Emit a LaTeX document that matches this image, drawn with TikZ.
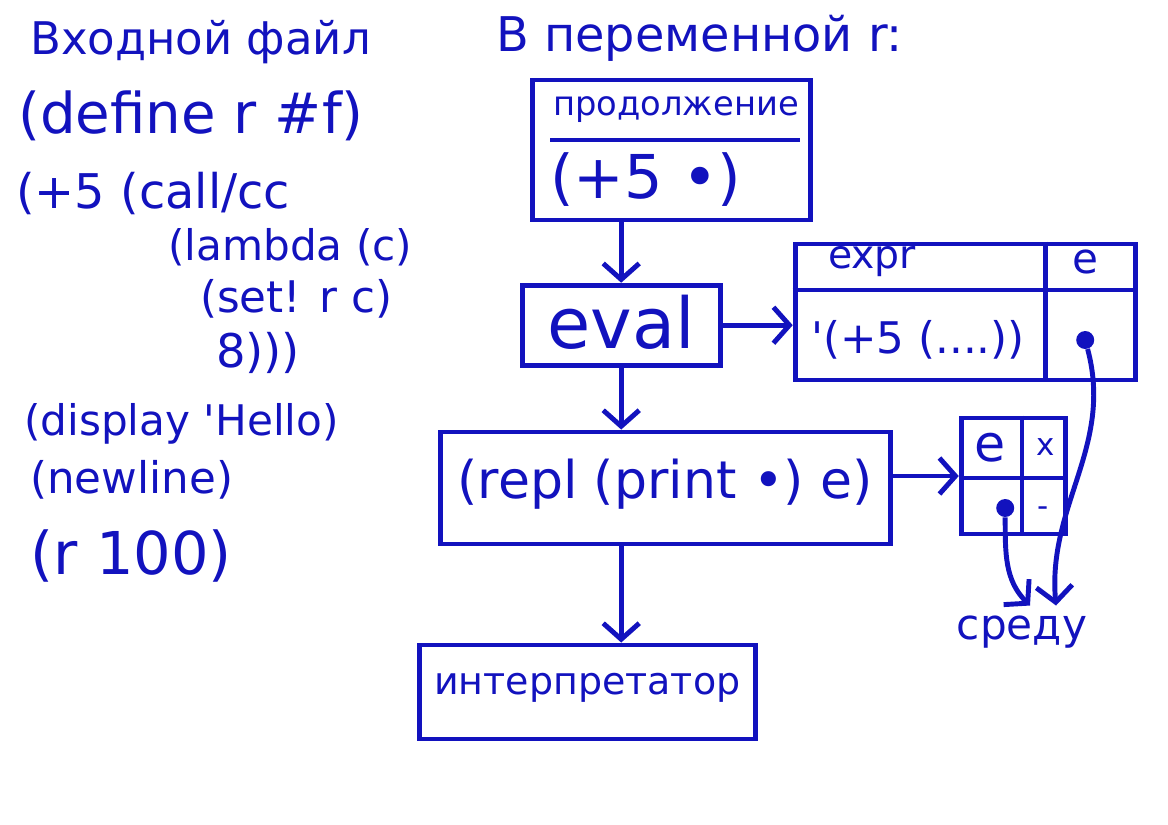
\documentclass[tikz,border=0pt]{standalone}
\usepackage{fontspec}
\setmainfont{DejaVu Sans}
\usetikzlibrary{
    arrows.meta,
    positioning
}
\definecolor{ink}{RGB}{18,18,190}
\newcommand{\inksize}[1]{%
    \fontsize{#1}{#1}\selectfont%
}

\begin{document}
\begin{tikzpicture}[
    box/.style={
        rectangle,
        draw=ink,
        line width=3.5pt,
        inner sep=0pt
    },
    txt/.style={
        text=ink,
        inner sep=0pt,
        anchor=west
    },
    ctxt/.style={
        text=ink,
        inner sep=0pt
    },
    divider/.style={
        draw=ink,
        line width=3.5pt
    },
    arrow/.style={
        draw=ink,
        line width=3.5pt,
        -{Straight Barb[length=4mm,width=9mm,line width=3.5pt]}
    },
    dot/.style={
        circle,
        fill=ink,
        inner sep=0pt,
        minimum size=0.45cm
    }
]

\useasboundingbox (0,0) rectangle (29.2,-20.6);

% input file

\node[txt, font=\inksize{32}] (infile) at (0.75,-1.05) {Входной файл};
\node[txt, font=\inksize{40}] (define) at (0.45,-2.9) {(define r \#f)};
\node[txt, font=\inksize{34}] (callcc) at (0.4,-4.83) {(+5 (call/cc};
\node[txt, font=\inksize{30}] (lambda) at (4.2,-6.18) {(lambda (c)};
\node[txt, font=\inksize{31}] (setr) at (5.0,-7.48) {(set! r c)};
\node[txt, font=\inksize{33}] (eight) at (5.4,-8.83) {8)))};
\node[txt, font=\inksize{30}] (display) at (0.6,-10.6) {(display \textquotesingle Hello)};
\node[txt, font=\inksize{31}] (newline) at (0.75,-12.0) {(newline)};
\node[txt, font=\inksize{42}] (rcall) at (0.75,-13.9) {(r 100)};

% variable r

\node[txt, font=\inksize{34}] (title) at (12.4,-0.95) {В переменной r:};

\node[box, minimum width=6.95cm, minimum height=3.5cm] (cont) at (16.78,-3.75) {};
\node[ctxt, font=\inksize{24}] (contlabel) at (16.9,-2.75) {продолжение};
\draw[divider] (13.75,-3.5) -- (20.0,-3.5);
\node[txt, font=\inksize{43}] (contexpr) at (13.75,-4.5) {(+5 •)};

\node[box, minimum width=4.95cm, minimum height=2.0cm] (eval) at (15.53,-8.13) {};
\node[ctxt, font=\inksize{50}] (evallabel) at (15.53,-8.05) {eval};

% frame

\node[box, minimum width=8.5cm, minimum height=3.4cm] (frame) at (24.13,-7.8) {};
\draw[divider] (frame.west |- 0,-7.25) -- (frame.east |- 0,-7.25);
\draw[divider] (26.13,0 |- frame.north) -- (26.13,0 |- frame.south);
\node[ctxt, font=\inksize{28}] (exprhead) at (21.8,-6.55) {expr};
\node[ctxt, font=\inksize{30}] (envhead) at (27.13,-6.55) {e};
\node[ctxt, font=\inksize{31}] (exprval) at (22.95,-8.5) {\textquotesingle(+5 (....))};
\node[dot] (framedot) at (27.13,-8.5) {};

% repl

\node[box, minimum width=11.25cm, minimum height=2.8cm] (repl) at (16.63,-12.2) {};
\node[ctxt, font=\inksize{37}] (repllabel) at (16.63,-12.1) {(repl (print •) e)};

% environment

\node[box, minimum width=2.6cm, minimum height=2.9cm] (env) at (25.33,-11.9) {};
\draw[divider] (env.west |- 0,-11.95) -- (env.east |- 0,-11.95);
\draw[divider] (25.55,0 |- env.north) -- (25.55,0 |- env.south);
\node[ctxt, font=\inksize{36}] (envname) at (24.75,-11.18) {e};
\node[ctxt, font=\inksize{22}] (envvar) at (26.13,-11.18) {x};
\node[dot] (envdot) at (25.13,-12.7) {};
\node[ctxt, font=\inksize{22}] (envval) at (26.08,-12.8) {-};

\node[ctxt, font=\inksize{30}] (sreda) at (25.55,-15.8) {среду};

% interpreter

\node[box, minimum width=8.4cm, minimum height=2.35cm] (interp) at (14.68,-17.3) {};
\node[ctxt, font=\inksize{27}] (interplabel) at (14.68,-17.2) {интерпретатор};

% connectors

\draw[arrow] (eval.north |- cont.south) -- (eval.north);
\draw[arrow] (eval.east) -- (eval.east -| frame.west);
\draw[arrow] (eval.south) -- (eval.south |- repl.north);
\draw[arrow] (repl.east |- env.west) -- (env.west);
\draw[arrow] (eval.south |- repl.south) -- (eval.south |- interp.north);

\draw[arrow]
    (envdot)
    to[out=-90, in=135]
    ([xshift=0.2cm, yshift=0.25cm]sreda.north);

\draw[arrow]
    (framedot)
    to[out=-75, in=95]
    ([xshift=0.85cm, yshift=0.25cm]sreda.north);

\end{tikzpicture}
\end{document}
